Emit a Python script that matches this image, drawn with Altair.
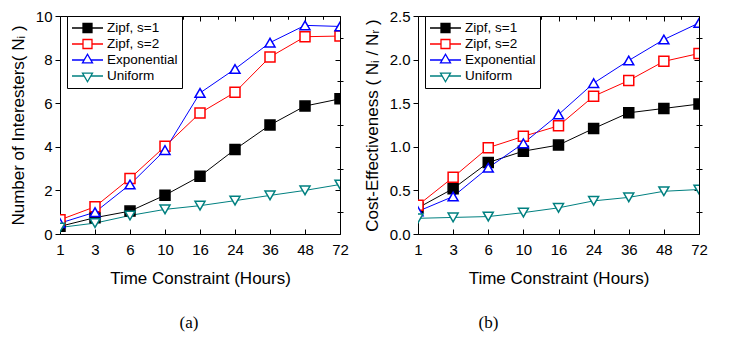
import json
import altair as alt
import pandas as pd

hours = [1, 3, 6, 10, 16, 24, 36, 48, 72]
series_names = ["Zipf, s=1", "Zipf, s=2", "Exponential", "Uniform"]
colors = ["#000000", "#ff0000", "#0000ff", "#008080"]
fills = ["#000000", "#ffffff", "#ffffff", "#ffffff"]
shapes = ["square", "square", "triangle-up", "triangle-down"]

# panel (a): Number of Interesters
zipf1_a = [0.35, 0.75, 1.05, 1.78, 2.65, 3.88, 5.00, 5.87, 6.20]
zipf2_a = [0.65, 1.25, 2.55, 4.02, 5.55, 6.50, 8.12, 9.05, 9.08]
exp_a = [0.50, 1.00, 2.27, 3.85, 6.47, 7.57, 8.78, 9.57, 9.52]
uni_a = [0.30, 0.50, 0.85, 1.13, 1.30, 1.53, 1.77, 2.00, 2.27]

# panel (b): Cost-Effectiveness
zipf1_b = [0.30, 0.52, 0.82, 0.95, 1.02, 1.21, 1.39, 1.44, 1.49]
zipf2_b = [0.33, 0.65, 0.99, 1.12, 1.24, 1.58, 1.76, 1.98, 2.07]
exp_b = [0.26, 0.43, 0.76, 1.04, 1.37, 1.73, 1.99, 2.23, 2.42]
uni_b = [0.18, 0.19, 0.20, 0.245, 0.30, 0.38, 0.42, 0.49, 0.51]

FONT = "Liberation Sans"
labels_js = json.dumps([str(h) for h in hours])

# legend symbols: line + marker (unit coordinates, scaled by symbolSize)
SQ = "M-1,0H-0.29M0.29,0H1M-0.29,-0.29H0.29V0.29H-0.29Z"
TU = "M-1,0H-0.215M0.215,0H1M0,-0.373L0.323,0.186L-0.323,0.186Z"
TD = "M-1,0H-0.215M0.215,0H1M0,0.373L0.323,-0.186L-0.323,-0.186Z"
legend_shapes = [SQ, SQ, TU, TD]


def long_df(vals_list):
    rows = []
    for name, vals in zip(series_names, vals_list):
        for i, (h, v) in enumerate(zip(hours, vals)):
            rows.append({"idx": i, "hour": h, "value": v, "series": name})
    return pd.DataFrame(rows)


def make_panel(vals_list, ymax, ymajor, yminor, ytitle, yfmt, caption, cap_dx, width):
    df = long_df(vals_list)
    xscale = alt.Scale(domain=[0, 8], nice=False, zero=False)
    yscale = alt.Scale(domain=[0, ymax], nice=False, zero=True)
    xmaj = list(range(9))
    xmin = [i + 0.5 for i in range(8)]

    common = dict(grid=False, domain=False, tickColor="black", tickWidth=1)

    ax_x_bottom = alt.Axis(values=xmaj, labelExpr=f"{labels_js}[datum.value]", tickSize=5, offset=-5,
                           labelPadding=8, labelFlush=False, labelOverlap=False,
                           title="Time Constraint (Hours)", titlePadding=13,
                           labelFont=FONT, labelFontSize=15, labelColor="black",
                           titleFont=FONT, titleFontSize=17, titleFontWeight="normal", titleColor="black",
                           **common)
    ax_y_left = alt.Axis(values=ymajor, format=yfmt, tickSize=5, labelPadding=3, labelOverlap=False,
                         labelFlush=False, title=ytitle, titlePadding=8,
                         labelFont=FONT, labelFontSize=15, labelColor="black",
                         titleFont=FONT, titleFontSize=17, titleFontWeight="normal", titleColor="black",
                         **common)
    ax_x_bottom_minor = alt.Axis(values=xmin, tickSize=3, offset=-3, labels=False, title=None, **common)
    ax_y_left_minor = alt.Axis(values=yminor, tickSize=3, labels=False, title=None, **common)
    ax_x_top = alt.Axis(orient="top", values=xmaj, tickSize=5, offset=-5, labels=False, title=None, **common)
    ax_y_right = alt.Axis(orient="right", values=ymajor, tickSize=5, offset=-5, labels=False, title=None, **common)
    ax_x_top_minor = alt.Axis(orient="top", values=xmin, tickSize=3, offset=-3, labels=False, title=None, **common)
    ax_y_right_minor = alt.Axis(orient="right", values=yminor, tickSize=3, offset=-3, labels=False, title=None, **common)

    stroke_scale = alt.Scale(domain=series_names, range=colors)
    fill_scale = alt.Scale(domain=series_names, range=fills)
    shape_scale = alt.Scale(domain=series_names, range=shapes)
    legend_shape_scale = alt.Scale(domain=series_names, range=legend_shapes)

    legend = alt.Legend(
        title=None, orient="none", legendX=7, legendY=0, padding=4,
        strokeColor="black", fillColor="white", cornerRadius=0,
        symbolSize=961, clipHeight=16, rowPadding=0, symbolStrokeWidth=1.3,
        symbolOpacity=1,
        labelFont=FONT, labelFontSize=13.5, labelOffset=3, labelColor="black", labelLimit=300,
    )

    base = alt.Chart(df)
    lines = base.mark_line(strokeWidth=1, clip=True).encode(
        x=alt.X("idx:Q", scale=xscale, axis=ax_x_bottom),
        y=alt.Y("value:Q", scale=yscale, axis=ax_y_left),
        stroke=alt.Stroke("series:N", scale=stroke_scale, legend=None),
        detail="series:N",
    )
    points = base.mark_point(filled=True, size=100, strokeWidth=1.5, clip=True, opacity=1).encode(
        x=alt.X("idx:Q", scale=xscale, axis=ax_x_bottom_minor),
        y=alt.Y("value:Q", scale=yscale, axis=ax_y_left_minor),
        stroke=alt.Stroke("series:N", scale=stroke_scale, legend=None),
        fill=alt.Fill("series:N", scale=fill_scale, legend=None),
        shape=alt.Shape("series:N", scale=shape_scale, legend=None),
    )
    top_right = base.mark_point(opacity=0).encode(
        x=alt.X("idx:Q", scale=xscale, axis=ax_x_top),
        y=alt.Y("value:Q", scale=yscale, axis=ax_y_right),
    )
    top_right_minor = base.mark_point(opacity=0).encode(
        x=alt.X("idx:Q", scale=xscale, axis=ax_x_top_minor),
        y=alt.Y("value:Q", scale=yscale, axis=ax_y_right_minor),
    )
    legend_layer = base.transform_filter("false").mark_point(filled=True, opacity=1).encode(
        stroke=alt.Stroke("series:N", scale=stroke_scale, legend=legend),
        fill=alt.Fill("series:N", scale=fill_scale, legend=legend),
        shape=alt.Shape("series:N", scale=legend_shape_scale, legend=legend),
    )
    return alt.layer(lines, points, top_right, top_right_minor, legend_layer).resolve_axis(
        x="independent", y="independent"
    ).resolve_scale(
        stroke="independent", fill="independent", shape="independent"
    ).properties(
        width=width, height=218,
        title=alt.TitleParams(caption, orient="bottom", font="Liberation Serif", fontSize=17,
                              fontWeight="normal", color="black", dx=cap_dx, offset=29, frame="group"),
    )


panel_a = make_panel([zipf1_a, zipf2_a, exp_a, uni_a], 10, [0, 2, 4, 6, 8, 10], [1, 3, 5, 7, 9],
                     "Number of Interesters( N\u1d62 )", "d", "(a)", -11, 280)
panel_b = make_panel([zipf1_b, zipf2_b, exp_b, uni_b], 2.5, [0, 0.5, 1.0, 1.5, 2.0, 2.5],
                     [0.25, 0.75, 1.25, 1.75, 2.25],
                     "Cost-Effectiveness ( N\u1d62 / N\u1d63 )", ".1f", "(b)", -70, 281)

chart = alt.hconcat(panel_a, panel_b, spacing=13).properties(
    padding={"left": 0, "top": 0, "right": 5, "bottom": 5}
).configure(font=FONT).configure_view(stroke="black", strokeWidth=1)

chart.save("out.html", embed_options={"renderer": "svg", "actions": False})
